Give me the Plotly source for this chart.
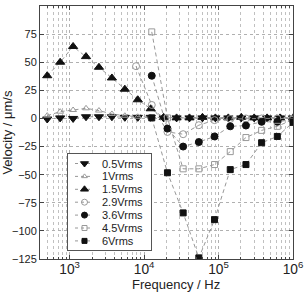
import plotly.graph_objects as go

# Frequencies (Hz)
freq_low = [500, 746, 1113, 1660, 2477, 3695, 5513, 8225, 12271, 18307,
            27312, 40747, 60790, 90692, 135304, 201859, 301151, 449287, 670291, 1000000]
freq_high = [7800, 12674, 20595, 33464, 54377, 88357, 143574, 233298, 379092, 615992, 1000000]

# Velocities (um/s)
v_05 = [-0.5, 0.5, 0, 1.5, 1.5, 1.5, 1, 1, 1, 0.5, 0.5, 0.5, 0.5, 0.5, 0.5, 0.5, 0.5, 0.5, 0.5, 0.5]
v_1 = [2.5, 6, 7.5, 9, 7, 4, 2.4, 1.5, 1, 1, 0.5, 0.5, 0.5, 0.5, 0.5, 0.5, 0.5, 0.5, 0.5, 0.5]
v_15 = [38, 50, 64, 55, 45.5, 36, 26, 16.6, 8.6, 1, 0.5, 0.5, 1, 0.5, 0.5, 1, 0.5, 0.5, 0.5, 0.5]
v_29 = [46.5, 12, -12, -14, -6, -1.5, -0.5, 0, 0, 0, 0]
v_36 = [38, -9, -25, -21, -16, -7, -6.3, -3, -3, -1]
v_45 = [77, 0.5, -44.8, -44.8, -41, -29.5, -17, -10.6, -7, -1]
v_6 = [0.5, -48.3, -84, -124, -90, -45.5, -41, -21.6, -16, -3.5]

yticks = [100, 75, 50, 25, 0, -25, -50, -75, -100, -125]

BLACK = "#111111"
GRAY = "#999999"
LINE = "#8c8c8c"
DASH = "4px,3px"

series = [
    ("0.5Vrms", freq_low, v_05, "triangle-down", BLACK, 8),
    ("1Vrms", freq_low, v_1, "triangle-up-open", GRAY, 6),
    ("1.5Vrms", freq_low, v_15, "triangle-up", BLACK, 8),
    ("2.9Vrms", freq_high, v_29, "circle-open", GRAY, 7),
    ("3.6Vrms", freq_high[1:], v_36, "circle", BLACK, 7),
    ("4.5Vrms", freq_high[1:], v_45, "square-open", GRAY, 6),
    ("6Vrms", freq_high[1:], v_6, "square", BLACK, 6),
]

FONT = "Liberation Sans, Arial, sans-serif"
TXT = "#222222"

fig = go.Figure()
for name, xs, ys, sym, col, sz in series:
    fig.add_trace(go.Scatter(
        x=xs, y=ys, name=name, mode="lines+markers",
        line=dict(color=LINE, width=0.9, dash=DASH),
        marker=dict(symbol=sym, color=col, size=sz, line=dict(color=col, width=1)),
        showlegend=False,
    ))

# Legend drawn as an inset panel (x2/y2 in pixel-like units), compact like the original
leg_x0, leg_x1, leg_y0, leg_y1 = 68, 151, 154, 250
for i, (name, xs, ys, sym, col, sz) in enumerate(series):
    yc = 163.5 + 12.9 * i
    fig.add_trace(go.Scatter(
        x=[75, 93], y=[yc, yc], mode="lines", xaxis="x2", yaxis="y2",
        line=dict(color=LINE, width=0.9, dash="3px,3px"), showlegend=False, hoverinfo="skip",
    ))
    fig.add_trace(go.Scatter(
        x=[84.5], y=[yc], mode="markers", xaxis="x2", yaxis="y2",
        marker=dict(symbol=sym, color=col, size=sz - 1, line=dict(color=col, width=1)),
        showlegend=False, hoverinfo="skip",
    ))
    fig.add_annotation(text=name, xref="x2", yref="y2", x=100, y=yc,
                       xanchor="left", yanchor="middle", showarrow=False,
                       font=dict(family=FONT, size=11, color=TXT))

fig.update_layout(
    width=305, height=293,
    margin=dict(l=40, r=12, t=6, b=34, autoexpand=False),
    paper_bgcolor="white", plot_bgcolor="white",
    font=dict(family=FONT, size=11, color=TXT),
    showlegend=False,
    xaxis=dict(
        type="log", range=[2.602, 6], dtick=1, exponentformat="power", showexponent="all",
        ticks="inside", ticklen=4, tickcolor="#444444", automargin=False,
        ticklabelstandoff=-2,
        showline=True, linecolor="#444444", linewidth=1, mirror="ticks",
        showgrid=True, gridcolor="#b0b0b0", griddash="dot", gridwidth=1,
        minor=dict(dtick="D1", showgrid=True, gridcolor="#c0c0c0", griddash="dot", gridwidth=1,
                   ticks="inside", ticklen=2, tickcolor="#444444"),
        zeroline=False,
    ),
    yaxis=dict(
        range=[-125, 100], tickvals=yticks, automargin=False,
        ticks="inside", ticklen=4, tickcolor="#444444",
        showline=True, linecolor="#444444", linewidth=1, mirror="ticks",
        showgrid=True, gridcolor="#b0b0b0", griddash="dot", gridwidth=1,
        zeroline=False,
    ),
    xaxis2=dict(domain=[(leg_x0 - 40) / 253, (leg_x1 - 40) / 253], range=[leg_x0, leg_x1],
                anchor="y2", showline=True, linecolor="#555555", linewidth=1, mirror=True,
                automargin=False,
                showgrid=False, zeroline=False, showticklabels=False, ticks=""),
    yaxis2=dict(domain=[(259 - leg_y1) / 253, (259 - leg_y0) / 253], range=[leg_y1, leg_y0],
                anchor="x2", showline=True, linecolor="#555555", linewidth=1, mirror=True,
                automargin=False,
                showgrid=False, zeroline=False, showticklabels=False, ticks=""),
)
fig.add_annotation(text="Frequency / Hz", xref="paper", yref="paper",
                   x=0.537, y=-0.1, xanchor="center", yanchor="middle",
                   showarrow=False, font=dict(family=FONT, size=13, color=TXT))
fig.add_annotation(text="Velocity / \u03bcm/s", xref="paper", yref="paper",
                   x=-0.13, y=0.5, xanchor="center", yanchor="middle", textangle=-90,
                   showarrow=False, font=dict(family=FONT, size=13, color=TXT))

fig.write_html("out.html", config={"displayModeBar": False},
               post_script="document.body.style.margin='0';document.body.style.overflow='hidden';")
